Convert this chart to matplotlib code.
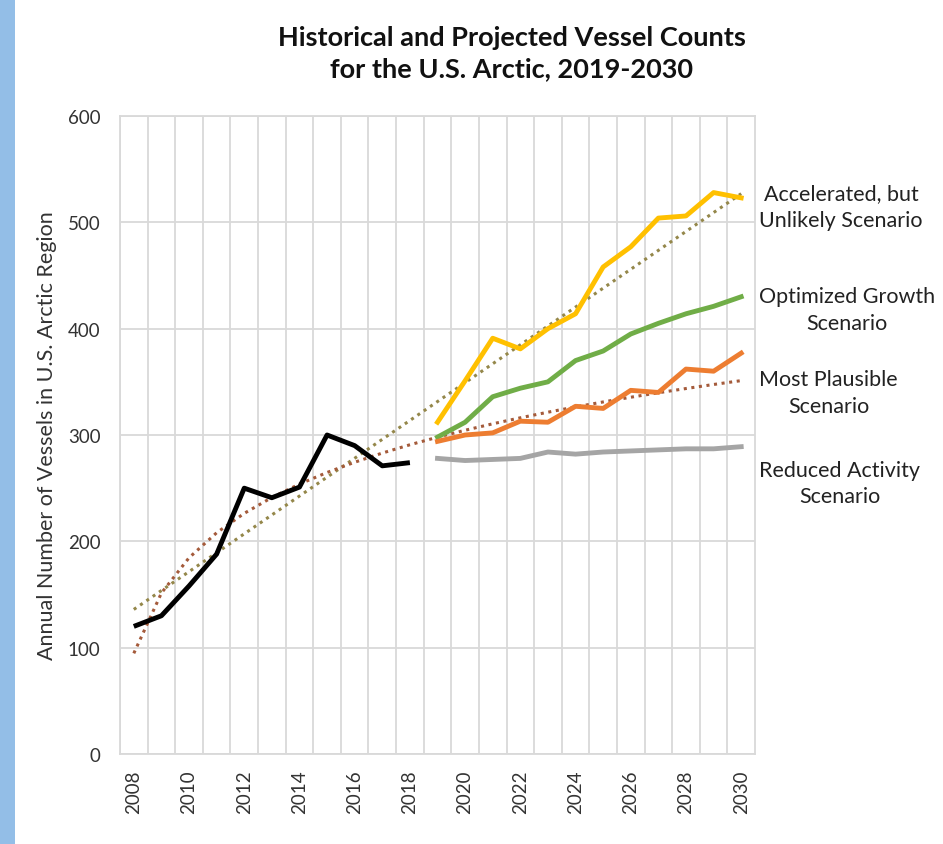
import numpy as np
import matplotlib
matplotlib.use("Agg")
import matplotlib.pyplot as plt
from matplotlib.patches import Rectangle

plt.rcParams['font.family'] = ['Lato', 'DejaVu Sans']

years = list(range(2008, 2031))
hist_years = list(range(2008, 2019))
proj_years = list(range(2019, 2031))

historical = [120, 130, 158, 188, 250, 241, 251, 300, 290, 271, 274]
accelerated = [312, 351, 391, 381, 400, 414, 458, 477, 504, 506, 528, 523]
optimized = [298, 312, 336, 344, 350, 370, 379, 395, 405, 414, 421, 430]
plausible = [294, 300, 302, 313, 312, 327, 325, 342, 340, 362, 360, 377]
reduced = [278, 276, 277, 278, 284, 282, 284, 285, 286, 287, 287, 289]

scenario_labels = ["Accelerated, but\nUnlikely Scenario",
                   "Optimized Growth\nScenario",
                   "Most Plausible\nScenario",
                   "Reduced Activity\nScenario"]
label_values = [515, 418, 340, 255]

fig = plt.figure(figsize=(9.43, 8.45), dpi=100)
fig.patch.set_facecolor('white')

# blue strip at left edge
fig.patches.append(Rectangle((0, 0), 15 / 943, 1, transform=fig.transFigure,
                             facecolor='#93BEE7', edgecolor='none', zorder=0))

ax = fig.add_axes([120 / 943, 90 / 845, 635 / 943, 638 / 845])

idx = {y: i for i, y in enumerate(years)}
hx = [idx[y] for y in hist_years]
px = [idx[y] for y in proj_years]

# trendlines fitted on historical data, extended to 2030
xall = np.arange(len(years))
lin = np.polyfit(hx, historical, 1)
ax.plot(xall, np.polyval(lin, xall), color='#94874A', lw=2.2,
        linestyle=(0, (1, 1.5)), zorder=2)
logfit = np.polyfit(np.log(np.array(hx) + 1), historical, 1)
ax.plot(xall, np.polyval(logfit, np.log(xall + 1)), color='#A45A3A', lw=2.2,
        linestyle=(0, (1, 1.5)), zorder=2)

lw = 3.5
ax.plot(hx, historical, color='black', lw=lw, solid_capstyle='butt', zorder=3)
ax.plot(px, accelerated, color='#FFC000', lw=lw, zorder=3)
ax.plot(px, optimized, color='#70AD47', lw=lw, zorder=3)
ax.plot(px, plausible, color='#ED7D31', lw=lw, zorder=3)
ax.plot(px, reduced, color='#A5A5A5', lw=lw, zorder=3)

ax.set_xlim(-0.5, len(years) - 0.5)
ax.set_ylim(0, 600)
ax.set_yticks(range(0, 601, 100))
ax.set_xticks([idx[y] for y in years if y % 2 == 0])
ax.set_xticklabels([str(y) for y in years if y % 2 == 0], rotation=90,
                   fontsize=13.5, color='#333333')
ax.set_xticks(np.arange(-0.5, len(years) - 0.5, 1.0), minor=True)
ax.tick_params(axis='both', which='both', length=0)
ax.tick_params(axis='y', labelsize=13.5, labelcolor='#333333', pad=14)
ax.tick_params(axis='x', pad=11)
ax.grid(axis='y', which='major', color='#D9D9D9', lw=1.3)
ax.grid(axis='x', which='minor', color='#D9D9D9', lw=1.3)
ax.grid(axis='x', which='major', visible=False)
ax.set_axisbelow(True)
for s in ax.spines.values():
    s.set_color('#D9D9D9')
    s.set_linewidth(1.3)

ax.set_ylabel("Annual Number of Vessels in U.S. Arctic Region", fontsize=15.5,
              color='#333333', labelpad=8)

fig.text(512 / 943, 1 - 54 / 845,
         "Historical and Projected Vessel Counts\nfor the U.S. Arctic, 2019-2030",
         ha='center', va='center', fontsize=19.5, fontweight='bold',
         color='#111111', linespacing=1.35)

for lab, v in zip(scenario_labels, label_values):
    ax.annotate(lab, xy=(1.0, v), xycoords=('axes fraction', 'data'),
                xytext=(3, 0), textcoords='offset points',
                ha='left', va='center', multialignment='center',
                fontsize=15.5, color='#222222', linespacing=1.4,
                annotation_clip=False)

fig.savefig("out.png", dpi=100)
